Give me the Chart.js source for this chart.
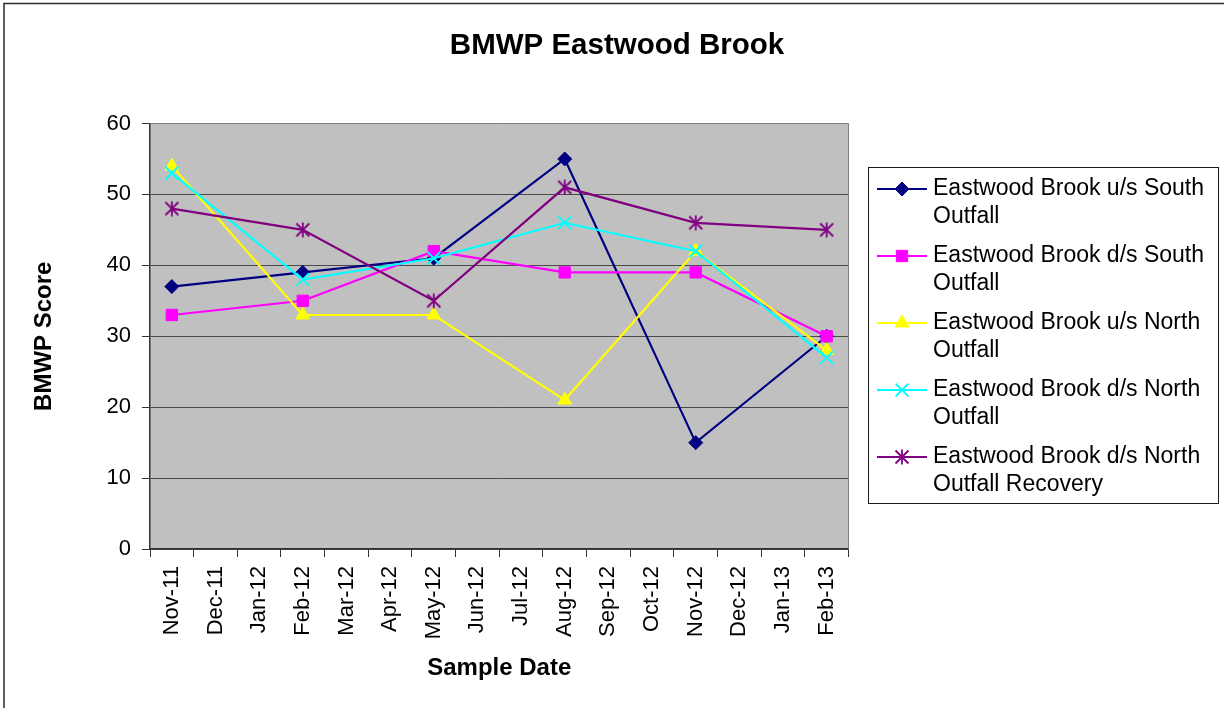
<!DOCTYPE html>
<html>
<head>
<meta charset="utf-8">
<title>BMWP Eastwood Brook</title>
<script src="https://cdn.jsdelivr.net/npm/chart.js@4/dist/chart.umd.min.js"></script>
<style>
  html, body { margin: 0; padding: 0; background: #ffffff; }
  #c { display: block; }
</style>
</head>
<body>
<canvas id="c" width="1224" height="708"></canvas>
<script>
// Monthly category axis
const months = ['Nov-11','Dec-11','Jan-12','Feb-12','Mar-12','Apr-12','May-12','Jun-12',
                'Jul-12','Aug-12','Sep-12','Oct-12','Nov-12','Dec-12','Jan-13','Feb-13'];

// Dates on which samples were taken
const sampleDates = ['Nov-11','Feb-12','May-12','Aug-12','Nov-12','Feb-13'];

// BMWP scores per site, one value per sample date
const usSouthOutfall      = [37, 39, 41, 55, 15, 30];
const dsSouthOutfall      = [33, 35, 42, 39, 39, 30];
const usNorthOutfall      = [54, 33, 33, 21, 42, 28];
const dsNorthOutfall      = [53, 38, 41, 46, 42, 27];
const dsNorthRecovery     = [48, 45, 35, 51, 46, 45];

// Site names, split over two legend lines
const siteNames = [
  ['Eastwood Brook u/s South', 'Outfall'],
  ['Eastwood Brook d/s South', 'Outfall'],
  ['Eastwood Brook u/s North', 'Outfall'],
  ['Eastwood Brook d/s North', 'Outfall'],
  ['Eastwood Brook d/s North', 'Outfall Recovery']
];

const FONT = 'Arial, "Liberation Sans", Helvetica, sans-serif';

// Asterisk marker: an X with a vertical stroke
function makeAsterisk(color, size, lw) {
  const cv = document.createElement('canvas');
  cv.width = size; cv.height = size;
  const g = cv.getContext('2d');
  const c = size / 2, a = size / 2 - 1.5;
  g.strokeStyle = color;
  g.lineWidth = lw;
  g.beginPath();
  g.moveTo(c - a, c - a); g.lineTo(c + a, c + a);
  g.moveTo(c + a, c - a); g.lineTo(c - a, c + a);
  g.moveTo(c, c - a - 1); g.lineTo(c, c + a + 1);
  g.stroke();
  return cv;
}
const asterisk = makeAsterisk('#800080', 16, 1.8);

function toPoints(values) {
  return values.map((v, i) => ({ x: sampleDates[i], y: v }));
}

const seriesStyle = [
  { color: '#000080', style: 'rectRot',  radius: 7,   bw: 1 },
  { color: '#FF00FF', style: 'rect',     radius: 8,   bw: 1 },
  { color: '#FFFF00', style: 'triangle', radius: 8,   bw: 1 },
  { color: '#00FFFF', style: 'crossRot', radius: 9,   bw: 2 },
  { color: '#800080', style: asterisk,   radius: 8,   bw: 1 }
];
const seriesValues = [usSouthOutfall, dsSouthOutfall, usNorthOutfall, dsNorthOutfall, dsNorthRecovery];

const datasets = seriesValues.map((vals, i) => ({
  label: siteNames[i].join(' '),
  data: toPoints(vals),
  borderColor: seriesStyle[i].color,
  backgroundColor: seriesStyle[i].color,
  borderWidth: 2.2,
  pointStyle: seriesStyle[i].style,
  pointRadius: seriesStyle[i].radius,
  pointBorderWidth: seriesStyle[i].bw,
  pointBackgroundColor: seriesStyle[i].color,
  pointBorderColor: seriesStyle[i].color,
  tension: 0,
  fill: false,
  order: seriesValues.length - i
}));

// Grey plot background, plot frame, outer frame and chart title
const decorations = {
  id: 'decorations',
  beforeDraw(chart) {
    const { ctx, chartArea: a } = chart;
    ctx.save();
    ctx.fillStyle = '#ffffff';
    ctx.fillRect(0, 0, chart.width, chart.height);
    ctx.fillStyle = '#C0C0C0';
    ctx.fillRect(a.left, a.top, a.right - a.left, a.bottom - a.top);
    ctx.restore();
  },
  beforeDatasetsDraw(chart) {
    const { ctx, chartArea: a } = chart;
    ctx.save();
    ctx.strokeStyle = '#808080';
    ctx.lineWidth = 1;
    ctx.beginPath();
    ctx.moveTo(a.left, Math.floor(a.top) + 0.5);
    ctx.lineTo(Math.floor(a.right) + 0.5, Math.floor(a.top) + 0.5);
    ctx.lineTo(Math.floor(a.right) + 0.5, a.bottom);
    ctx.stroke();
    ctx.restore();
  },
  afterDraw(chart) {
    const { ctx } = chart;
    ctx.save();
    ctx.strokeStyle = '#2a2a2a';
    ctx.lineWidth = 1.5;
    ctx.strokeRect(4, 3.5, chart.width + 20, chart.height + 20);
    ctx.fillStyle = '#000000';
    ctx.font = 'bold 29.5px ' + FONT;
    ctx.textAlign = 'center';
    ctx.textBaseline = 'middle';
    ctx.fillText('BMWP Eastwood Brook', 617, 46);
    ctx.restore();
  }
};

// Boxed legend with two-line entries
const boxedLegend = {
  id: 'boxedLegend',
  afterDraw(chart) {
    const { ctx } = chart;
    const box = { x: 868.5, y: 167.5, w: 350, h: 336 };
    const firstRow = 189, rowStep = 67, lineGap = 27.5;
    const drawPoint = Chart.helpers && Chart.helpers.drawPoint;
    ctx.save();
    ctx.fillStyle = '#ffffff';
    ctx.fillRect(box.x, box.y, box.w, box.h);
    ctx.strokeStyle = '#1a1a1a';
    ctx.lineWidth = 1;
    ctx.strokeRect(box.x, box.y, box.w, box.h);
    chart.data.datasets.forEach((ds, i) => {
      const y = firstRow + i * rowStep;
      ctx.strokeStyle = ds.borderColor;
      ctx.lineWidth = 2;
      ctx.beginPath();
      ctx.moveTo(877, y);
      ctx.lineTo(927, y);
      ctx.stroke();
      if (drawPoint) {
        ctx.fillStyle = ds.pointBackgroundColor;
        ctx.strokeStyle = ds.pointBorderColor;
        ctx.lineWidth = ds.pointBorderWidth;
        drawPoint(ctx, { pointStyle: ds.pointStyle, radius: ds.pointRadius, borderWidth: ds.pointBorderWidth, rotation: 0 }, 902, y);
      }
      ctx.fillStyle = '#000000';
      ctx.font = '23px ' + FONT;
      ctx.textAlign = 'left';
      ctx.textBaseline = 'middle';
      siteNames[i].forEach((line, k) => ctx.fillText(line, 933, y + k * lineGap));
    });
    ctx.restore();
  }
};

new Chart(document.getElementById('c'), {
  type: 'line',
  data: { labels: months, datasets },
  options: {
    responsive: false,
    animation: false,
    devicePixelRatio: 1,
    layout: { padding: { top: 123.5, right: 375.5, bottom: 0, left: 0 } },
    plugins: {
      legend: { display: false },
      title: { display: false },
      tooltip: { enabled: false }
    },
    scales: {
      x: {
        type: 'category',
        labels: months,
        offset: true,
        grid: { offset: true, drawOnChartArea: false, drawTicks: true, tickLength: 8, tickColor: '#333333', color: '#333333' },
        border: { display: true, color: '#333333', width: 1.5 },
        ticks: {
          autoSkip: false, minRotation: 90, maxRotation: 90, padding: 9,
          color: '#000000', font: { family: FONT, size: 22 }
        },
        title: {
          display: true, text: 'Sample Date', color: '#000000',
          font: { family: FONT, size: 24, weight: 'bold' },
          padding: { top: 0, bottom: 25 }
        },
        afterFit(scale) { scale.height = 159; }
      },
      y: {
        min: 0, max: 60,
        ticks: { stepSize: 10, padding: 11, color: '#000000', font: { family: FONT, size: 22 } },
        grid: {
          color: (c) => (c.tick && c.tick.value === 60 ? '#808080' : '#4a4a4a'),
          tickColor: '#333333', tickLength: 8, lineWidth: 1
        },
        border: { display: true, color: '#333333', width: 1.5 },
        title: {
          display: true, text: 'BMWP Score', color: '#000000',
          font: { family: FONT, size: 24, weight: 'bold' },
          padding: { top: 30, bottom: 0 }
        },
        afterFit(scale) { scale.width = 150; }
      }
    }
  },
  plugins: [decorations, boxedLegend]
});
</script>
</body>
</html>
